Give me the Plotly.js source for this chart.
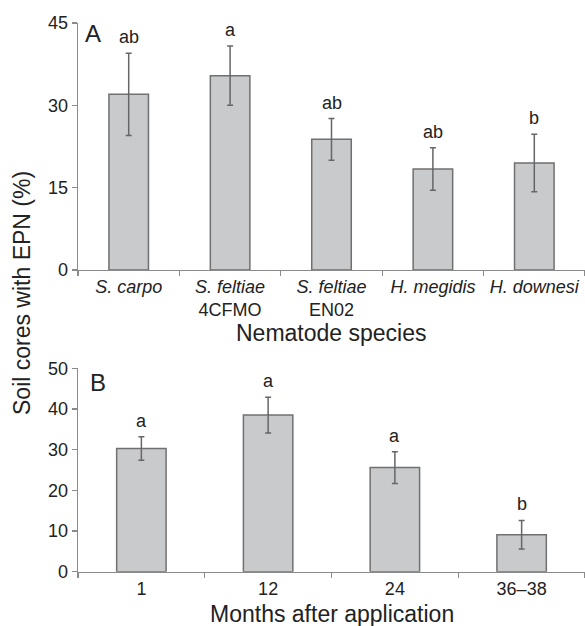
<!DOCTYPE html>
<html>
<head>
<meta charset="utf-8">
<script src="https://cdn.plot.ly/plotly-3.0.1.min.js"></script>
<style>html,body{margin:0;padding:0;background:#fff;}#chart{width:585px;height:626px;}</style>
</head>
<body>
<div id="chart"></div>
<script>
// Panel A: nematode species
const speciesCats = ["S. carpo", "S. feltiae 4CFMO", "S. feltiae EN02", "H. megidis", "H. downesi"];
const speciesTickText = ["<i>S. carpo</i>", "<i>S. feltiae</i><br>4CFMO", "<i>S. feltiae</i><br>EN02", "<i>H. megidis</i>", "<i>H. downesi</i>"];
const speciesValues = [32.0, 35.4, 23.8, 18.4, 19.5];
const speciesErr = [7.5, 5.4, 3.8, 3.85, 5.25];
const speciesLetters = ["ab", "a", "ab", "ab", "b"];

// Panel B: months after application
const monthCats = ["1", "12", "24", "36–38"];
const monthValues = [30.3, 38.5, 25.6, 9.1];
const monthErr = [2.9, 4.4, 3.9, 3.5];
const monthLetters = ["a", "a", "a", "b"];

const FONT = "Liberation Sans, Arial, Helvetica, sans-serif";
const TXT = "#222";
const AX = "#8a8a8a";

const barStyle = {
  color: "#c9cacc",
  line: { color: "#707070", width: 1.5 }
};
const errStyle = { type: "data", color: "#666", thickness: 1.5, width: 3 };

const traces = [
  {
    type: "bar", x: speciesCats, y: speciesValues, xaxis: "x", yaxis: "y",
    width: 0.39, marker: barStyle,
    error_y: Object.assign({ array: speciesErr }, errStyle),
    hoverinfo: "skip"
  },
  {
    type: "bar", x: monthCats, y: monthValues, xaxis: "x2", yaxis: "y2",
    width: 0.39, marker: barStyle,
    error_y: Object.assign({ array: monthErr }, errStyle),
    hoverinfo: "skip"
  }
];

const H = 626;
const pyA = [23, 270];
const pyB = [368.3, 571.7];
function dom(p) { return [(H - p[1]) / H, (H - p[0]) / H]; }

const axCommon = {
  showline: true, linecolor: AX, linewidth: 1.3,
  ticks: "outside", ticklen: 5, tickcolor: AX, tickwidth: 1.3,
  showgrid: false, zeroline: false,
  tickfont: { family: FONT, size: 18, color: TXT }
};

const annotations = [];
speciesCats.forEach((c, i) => {
  annotations.push({
    xref: "x", yref: "y", x: i, y: speciesValues[i] + speciesErr[i],
    text: speciesLetters[i], showarrow: false, yanchor: "bottom", yshift: 4,
    font: { family: FONT, size: 18, color: TXT }
  });
});
monthCats.forEach((c, i) => {
  annotations.push({
    xref: "x2", yref: "y2", x: i, y: monthValues[i] + monthErr[i],
    text: monthLetters[i], showarrow: false, yanchor: "bottom", yshift: 4,
    font: { family: FONT, size: 18, color: TXT }
  });
});
// panel letters
annotations.push({ xref: "paper", yref: "paper", x: (83 - 78) / 507, y: (H - 33.7) / H,
  xanchor: "left", yanchor: "middle", text: "A", showarrow: false,
  font: { family: FONT, size: 24, color: TXT } });
annotations.push({ xref: "paper", yref: "paper", x: (88 - 78) / 507, y: (H - 382.5) / H,
  xanchor: "left", yanchor: "middle", text: "B", showarrow: false,
  font: { family: FONT, size: 24, color: TXT } });
// axis titles
annotations.push({ xref: "paper", yref: "paper", x: 0.5, y: (H - 333) / H,
  xanchor: "center", yanchor: "middle", text: "Nematode species", showarrow: false,
  font: { family: FONT, size: 23, color: TXT } });
annotations.push({ xref: "paper", yref: "paper", x: 0.5, y: (H - 614) / H,
  xanchor: "center", yanchor: "middle", text: "Months after application", showarrow: false,
  font: { family: FONT, size: 23, color: TXT } });
annotations.push({ xref: "paper", yref: "paper", x: (22 - 78) / 507, y: (H - 293) / H,
  xanchor: "center", yanchor: "middle", textangle: -90, text: "Soil cores with EPN (%)", showarrow: false,
  font: { family: FONT, size: 23, color: TXT } });

const layout = {
  width: 585, height: 626,
  margin: { l: 78, r: 0, t: 0, b: 0, pad: 0 },
  paper_bgcolor: "#fff", plot_bgcolor: "#fff",
  showlegend: false,
  font: { family: FONT, color: TXT },
  xaxis: Object.assign({}, axCommon, {
    type: "category", anchor: "y", domain: [0, 1],
    tickson: "boundaries", tickvals: speciesCats, ticktext: speciesTickText,
    range: [-0.5, 4.5]
  }),
  yaxis: Object.assign({}, axCommon, {
    anchor: "x", domain: dom(pyA), range: [0, 45], tickvals: [0, 15, 30, 45]
  }),
  xaxis2: Object.assign({}, axCommon, {
    type: "category", anchor: "y2", domain: [0, 1],
    tickson: "boundaries", range: [-0.5, 3.5]
  }),
  yaxis2: Object.assign({}, axCommon, {
    anchor: "x2", domain: dom(pyB), range: [0, 50], tickvals: [0, 10, 20, 30, 40, 50]
  }),
  annotations: annotations
};

Plotly.newPlot("chart", traces, layout, { displayModeBar: false, staticPlot: true });
</script>
</body>
</html>
